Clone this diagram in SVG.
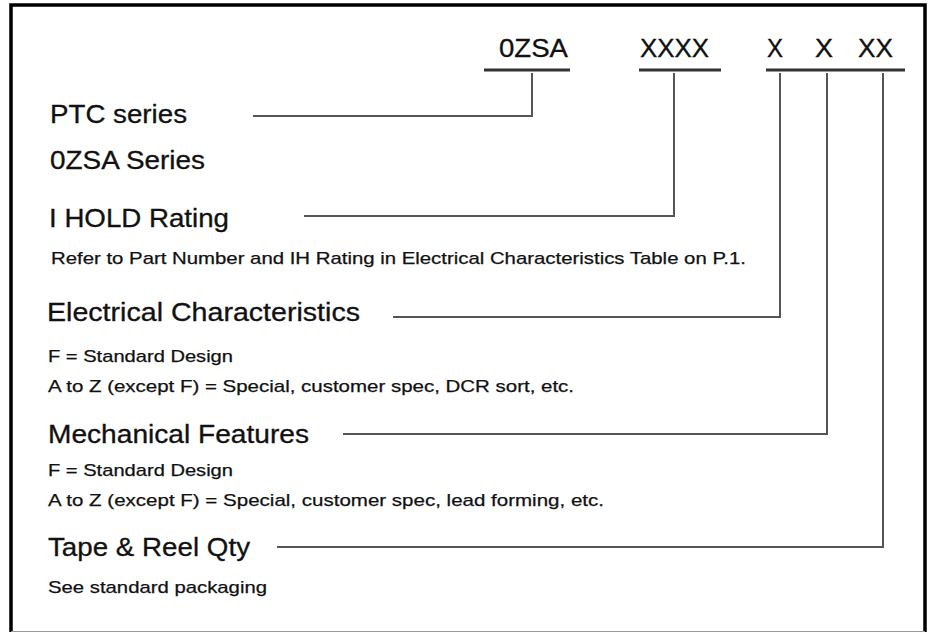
<svg xmlns="http://www.w3.org/2000/svg" width="930" height="632" viewBox="0 0 930 632">
<style>
text{font-family:"Liberation Sans",Arial,Helvetica,sans-serif;fill:#111;stroke:#111}
.big{font-size:25px;stroke-width:0.3}
.small{font-size:17px;stroke-width:0.25}
.code{font-size:25px;stroke-width:0.3}
.conn{fill:none;stroke:#555;stroke-width:2}
.ul{fill:none;stroke:#333;stroke-width:3}
</style>
<rect x="0" y="0" width="930" height="632" fill="#fff"/>
<path d="M11,633 V5 H925 V633" fill="none" stroke="#000" stroke-width="3.5"/>
<line x1="11" y1="631.5" x2="925" y2="631.5" stroke="#999" stroke-width="1"/>
<g id="code">
<text class="code" x="499" y="57" textLength="69" lengthAdjust="spacingAndGlyphs">0ZSA</text>
<text class="code" x="640" y="57" textLength="69" lengthAdjust="spacingAndGlyphs">XXXX</text>
<text class="code" x="767" y="57" textLength="16" lengthAdjust="spacingAndGlyphs">X</text>
<text class="code" x="815" y="57" textLength="18" lengthAdjust="spacingAndGlyphs">X</text>
<text class="code" x="858" y="57" textLength="35" lengthAdjust="spacingAndGlyphs">XX</text>
<line class="ul" x1="484" y1="70" x2="570" y2="70"/>
<line class="ul" x1="639" y1="70" x2="721" y2="70"/>
<line class="ul" x1="766" y1="70" x2="905" y2="70"/>
</g>
<g id="ptc">
<text class="big" x="50" y="123" textLength="137" lengthAdjust="spacingAndGlyphs">PTC series</text>
<text class="big" x="50" y="169" textLength="155" lengthAdjust="spacingAndGlyphs">0ZSA Series</text>
</g>
<g id="ihold">
<text class="big" x="49" y="227" textLength="180" lengthAdjust="spacingAndGlyphs">I HOLD Rating</text>
<text class="small" x="51" y="264" textLength="695" lengthAdjust="spacingAndGlyphs">Refer to Part Number and IH Rating in Electrical Characteristics Table on P.1.</text>
</g>
<g id="electrical">
<text class="big" x="47" y="321" textLength="313" lengthAdjust="spacingAndGlyphs">Electrical Characteristics</text>
<text class="small" x="48" y="362" textLength="185" lengthAdjust="spacingAndGlyphs">F = Standard Design</text>
<text class="small" x="48" y="392" textLength="526" lengthAdjust="spacingAndGlyphs">A to Z (except F) = Special, customer spec, DCR sort, etc.</text>
</g>
<g id="mechanical">
<text class="big" x="48" y="443" textLength="261" lengthAdjust="spacingAndGlyphs">Mechanical Features</text>
<text class="small" x="48" y="476" textLength="185" lengthAdjust="spacingAndGlyphs">F = Standard Design</text>
<text class="small" x="48" y="506" textLength="556" lengthAdjust="spacingAndGlyphs">A to Z (except F) = Special, customer spec, lead forming, etc.</text>
</g>
<g id="tape">
<text class="big" x="48" y="556" textLength="202" lengthAdjust="spacingAndGlyphs">Tape &amp; Reel Qty</text>
<text class="small" x="48" y="593" textLength="219" lengthAdjust="spacingAndGlyphs">See standard packaging</text>
</g>
<g id="connectors">
<polyline class="conn" points="253,116 532,116 532,73"/>
<polyline class="conn" points="304,216 674,216 674,73"/>
<polyline class="conn" points="393,317 780,317 780,73"/>
<polyline class="conn" points="343,434 827,434 827,73"/>
<polyline class="conn" points="277,547 883,547 883,73"/>
</g>
</svg>
